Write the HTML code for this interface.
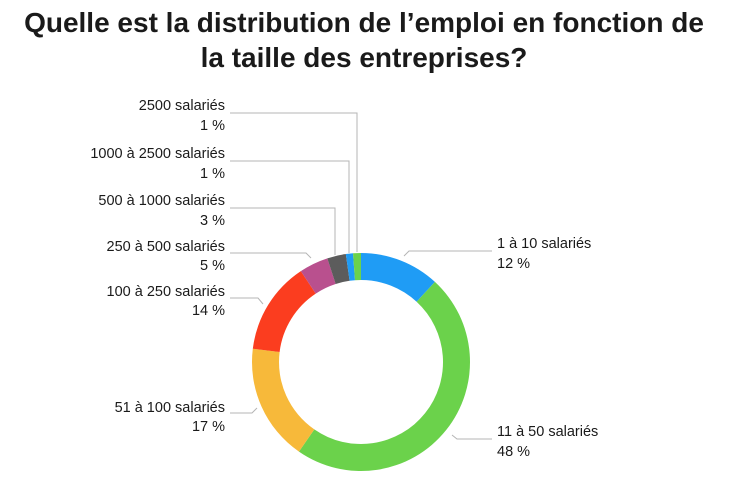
<!DOCTYPE html>
<html><head><meta charset="utf-8"><style>
html,body{margin:0;padding:0;background:#fff;width:729px;height:498px;overflow:hidden}
svg{display:block}
text{font-family:"Liberation Sans",Arial,sans-serif;fill:#1a1a1a}
.l{font-size:14.5px}
</style></head><body>
<svg id="s" width="729" height="498" viewBox="0 0 729 498" xmlns="http://www.w3.org/2000/svg">
<text x="364" y="32" text-anchor="middle" font-size="28" font-weight="bold" fill="#000">Quelle est la distribution de l’emploi en fonction de</text>
<text x="364" y="67" text-anchor="middle" font-size="28" font-weight="bold" fill="#000">la taille des entreprises?</text>
<g id="ring"></g>
<g fill="none" stroke="#b5b5b5" stroke-width="1">
<polyline points="230,113 357,113 357,252"/>
<polyline points="230,161 349,161 349,253"/>
<polyline points="230,208 335,208 335,255"/>
<polyline points="230,253 306,253 311,258"/>
<polyline points="230,298 258,298 263,304"/>
<polyline points="230,413 252,413 257,408"/>
<polyline points="492,251 409,251 404,256"/>
<polyline points="492,439 457,439 452,435"/>
</g>
<g class="l" text-anchor="end">
<text class="l" x="225" y="110">2500 salariés</text><text class="l" x="225" y="130">1 %</text>
<text class="l" x="225" y="158">1000 à 2500 salariés</text><text class="l" x="225" y="178">1 %</text>
<text class="l" x="225" y="205">500 à 1000 salariés</text><text class="l" x="225" y="225">3 %</text>
<text class="l" x="225" y="251">250 à 500 salariés</text><text class="l" x="225" y="270">5 %</text>
<text class="l" x="225" y="296">100 à 250 salariés</text><text class="l" x="225" y="315">14 %</text>
<text class="l" x="225" y="412">51 à 100 salariés</text><text class="l" x="225" y="431">17 %</text>
</g>
<text class="l" x="497" y="248">1 à 10 salariés</text><text class="l" x="497" y="268">12 %</text>
<text class="l" x="497" y="436">11 à 50 salariés</text><text class="l" x="497" y="456">48 %</text>
</svg>
<script>
var cx=361,cy=362,R=109,r=82;
var segs=[[0,42.7,"#1f9cf5"],[42.7,214.7,"#6bd24b"],[214.7,277,"#f7b93a"],[277,326.5,"#fb3d1f"],[326.5,342,"#b9508e"],[342,352,"#5c5c5c"],[352,355.8,"#1f9cf5"],[355.8,360,"#6bd24b"]];
function p(a,rad){var t=(a-90)*Math.PI/180;return (cx+rad*Math.cos(t)).toFixed(2)+","+(cy+rad*Math.sin(t)).toFixed(2);}
var h="";
segs.forEach(function(s){var lg=(s[1]-s[0])>180?1:0;
h+='<path fill="'+s[2]+'" d="M'+p(s[0],R)+' A'+R+','+R+' 0 '+lg+' 1 '+p(s[1],R)+' L'+p(s[1],r)+' A'+r+','+r+' 0 '+lg+' 0 '+p(s[0],r)+' Z"/>';});
document.getElementById("ring").innerHTML=h;
</script>
</body></html>
